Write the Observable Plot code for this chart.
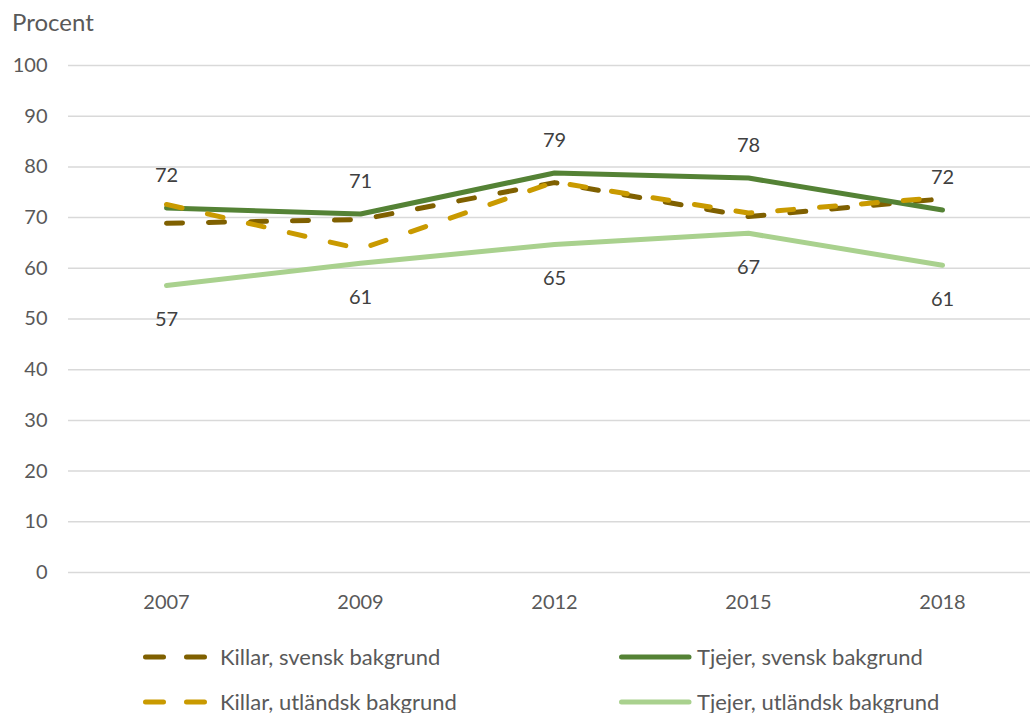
<!DOCTYPE html>
<html>
<head>
<meta charset="utf-8">
<script src="https://cdn.jsdelivr.net/npm/d3@7"></script>
<script src="https://cdn.jsdelivr.net/npm/@observablehq/plot@0.6"></script>
<style>
  html, body { margin: 0; padding: 0; background: #fff; }
  body { width: 1034px; height: 713px; overflow: hidden; font-family: Lato, "Open Sans", sans-serif; color: #595959; }
  #title { height: 40px; font-size: 24px; padding-left: 12px; line-height: 44px; color: #595959; }
  #legend { position: relative; height: 91px; font-size: 22px; color: #595959; }
  .item { position: absolute; height: 30px; }
  .item svg { position: absolute; left: 0; top: 10px; }
  .item span { position: absolute; top: 0; line-height: 30px; white-space: nowrap; }
</style>
</head>
<body>
<div id="title">Procent</div>
<div id="chart"></div>
<div id="legend"></div>
<script>
const years = ["2007", "2009", "2012", "2015", "2018"];
const seriesNames = ["Killar, svensk bakgrund", "Tjejer, svensk bakgrund", "Killar, utländsk bakgrund", "Tjejer, utländsk bakgrund"];
const killarSvensk = [68.9, 69.6, 76.9, 70.2, 73.7];
const tjejerSvensk = [71.9, 70.7, 78.8, 77.8, 71.5];
const killarUtlandsk = [72.6, 63.8, 77.0, 70.9, 74.0];
const tjejerUtlandsk = [56.6, 61.0, 64.7, 66.9, 60.6];
const tjejerSvenskLabels = [72, 71, 79, 78, 72];
const tjejerUtlandskLabels = [57, 61, 65, 67, 61];
const yTicks = [0, 10, 20, 30, 40, 50, 60, 70, 80, 90, 100];

const colors = ["#7f6000", "#548235", "#c99a00", "#a9d18e"];
const dashed = [true, false, true, false];
const values = [killarSvensk, tjejerSvensk, killarUtlandsk, tjejerUtlandsk];

const rows = [];
seriesNames.forEach((s, k) => years.forEach((yr, i) => rows.push({series: s, year: yr, value: values[k][i]})));

const lineMarks = seriesNames.map((s, k) => Plot.line(rows.filter(d => d.series === s), {
  x: "year", y: "value",
  stroke: colors[k], strokeWidth: 5,
  strokeLinecap: "round", strokeLinejoin: "round",
  strokeDasharray: dashed[k] ? "16,26" : null
}));

const plot = Plot.plot({
  width: 1034,
  height: 582,
  marginLeft: 68,
  marginRight: 4,
  marginTop: 25,
  marginBottom: 50,
  style: {fontFamily: "Lato, 'Open Sans', sans-serif", fontSize: "20px", color: "#595959", background: "#fff"},
  x: {type: "point", domain: years, range: [166, 942], padding: 0, label: null},
  y: {domain: [0, 100], label: null},
  marks: [
    Plot.gridY(yTicks, {stroke: "#d9d9d9", strokeOpacity: 1, strokeWidth: 1.5}),
    Plot.axisY(yTicks, {tickSize: 0, tickPadding: 21, label: null, fill: "#595959", fontSize: 20}),
    Plot.axisX({tickSize: 0, tickPadding: 22, label: null, fill: "#595959", fontSize: 20}),
    ...lineMarks,
    Plot.text(years, {x: d => d, y: (d, i) => tjejerSvensk[i], text: (d, i) => String(tjejerSvenskLabels[i]), dy: -32, fill: "#404040", fontSize: 20}),
    Plot.text(years, {x: d => d, y: (d, i) => tjejerUtlandsk[i], text: (d, i) => String(tjejerUtlandskLabels[i]), dy: 34, fill: "#404040", fontSize: 20})
  ]
});
document.getElementById("chart").appendChild(plot);

// Legend (below the SVG, which ends at y = 622)
const legend = document.getElementById("legend");
const pos = [[141, 657], [617, 657], [141, 702], [617, 702]];
seriesNames.forEach((s, k) => {
  const item = document.createElement("div");
  item.className = "item";
  item.style.left = pos[k][0] + "px";
  item.style.top = (pos[k][1] - 622 - 15) + "px";
  const w = dashed[k] ? 70 : 76;
  const line = dashed[k]
    ? `<line x1="4.5" y1="5" x2="66.5" y2="5" stroke="${colors[k]}" stroke-width="5" stroke-linecap="round" stroke-dasharray="18,23"/>`
    : `<line x1="4.5" y1="5" x2="72" y2="5" stroke="${colors[k]}" stroke-width="5" stroke-linecap="round"/>`;
  item.innerHTML = `<svg width="${w}" height="10">${line}</svg><span style="left:${dashed[k] ? 79 : 80}px">${s}</span>`;
  legend.appendChild(item);
});
</script>
</body>
</html>
